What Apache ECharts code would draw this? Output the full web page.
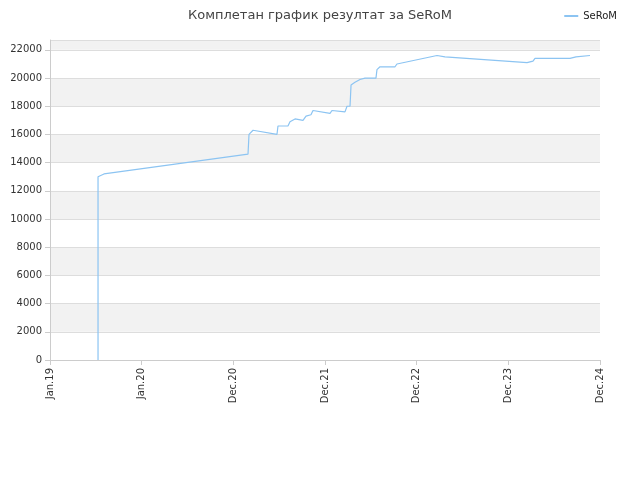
<!DOCTYPE html><html><head><meta charset="utf-8">
<script src="https://cdn.jsdelivr.net/npm/echarts@6/dist/echarts.min.js"></script></head>
<body style="margin:0"><div id="c" style="width:640px;height:480px"></div>
<script>
const xLabels=['Jan.19','Jan.20','Dec.20','Dec.21','Dec.22','Dec.23','Dec.24'];
const xPos=[0.524,0.524,0.545,0.589,2.160,2.171,2.215,2.476,2.487,2.596,2.618,2.673,2.760,2.793,2.847,2.869,3.055,3.076,3.218,3.240,3.273,3.284,3.327,3.382,3.436,3.556,3.567,3.600,3.764,3.785,4.222,4.309,5.204,5.269,5.291,5.673,5.738,5.891];
const scores=[0,13000,13100,13200,14600,16000,16300,16000,16600,16600,16900,17100,17000,17300,17400,17700,17500,17700,17600,18000,18000,19500,19700,19900,20000,20000,20600,20800,20800,21000,21600,21500,21100,21200,21400,21400,21500,21600];
const c=echarts.init(document.getElementById('c'));
c.setOption({
 animation:false,
 title:{text:'Комплетан график резултат за SeRoM',left:'center',top:4,textStyle:{fontSize:13,fontWeight:'normal',color:'#444',fontFamily:'DejaVu Sans'}},
 legend:{right:18,top:6,itemWidth:14,itemHeight:2,textStyle:{fontSize:10,color:'#222',fontFamily:'DejaVu Sans'},data:['SeRoM']},
 grid:{left:50,right:40,top:40,bottom:120},
 xAxis:{type:'value',min:0,max:6,interval:1,splitLine:{show:false},
  axisLine:{lineStyle:{color:'#ccc'}},axisTick:{show:true,lineStyle:{color:'#ccc'}},
  axisLabel:{rotate:90,fontSize:10,color:'#333',fontFamily:'DejaVu Sans',formatter:v=>xLabels[v]}},
 yAxis:{type:'value',min:0,max:22700,interval:2000,
  axisLabel:{fontSize:10,color:'#333',fontFamily:'DejaVu Sans',showMaxLabel:false,formatter:v=>String(v)},
  axisLine:{show:true,lineStyle:{color:'#ccc'}},
  splitLine:{lineStyle:{color:'#ddd'}},
  splitArea:{show:true,areaStyle:{color:['#fff','#f2f2f2']}}},
 series:[{name:'SeRoM',type:'line',symbol:'none',data:xPos.map((x,i)=>[x,scores[i]]),lineStyle:{color:'#8cc4f2',width:1.2},itemStyle:{color:'#8cc4f2'}}]
});
</script></body></html>
